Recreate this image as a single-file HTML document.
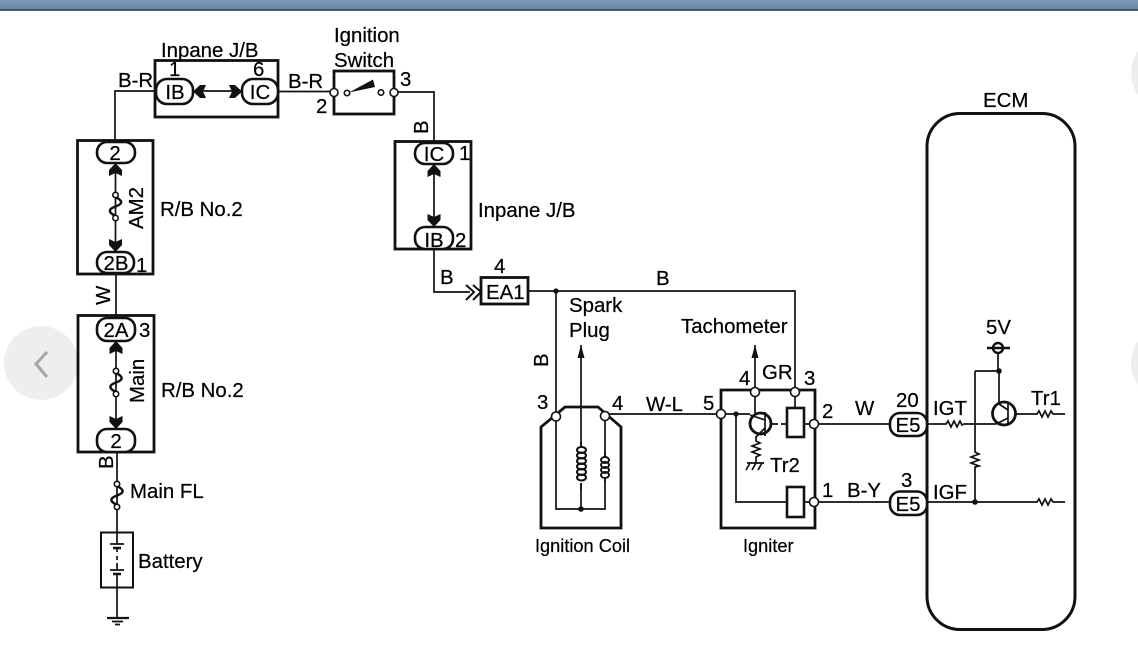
<!DOCTYPE html>
<html><head><meta charset="utf-8"><title>Ignition circuit</title>
<style>
html,body{margin:0;padding:0;background:#fff;width:1138px;height:660px;overflow:hidden}
svg{position:absolute;left:0;top:0;display:block}
#d{filter:blur(.35px)}
text{font-family:"Liberation Sans",sans-serif;font-size:20.4px;fill:#000;stroke:#000;stroke-width:.22px}
.s{font-size:18.2px}
.m{text-anchor:middle}
.w{fill:none;stroke:#111;stroke-width:1.7}
.b{fill:#fff;stroke:#111;stroke-width:2.8}
.n{fill:none;stroke:#111;stroke-width:2.8}
.p{fill:#fff;stroke:#111;stroke-width:2.6}
.t{fill:#fff;stroke:#111;stroke-width:1.6}
.d{fill:#111}
</style></head><body>
<svg width="1138" height="660" viewBox="0 0 1138 660">
<defs>
<linearGradient id="h" x1="0" y1="0" x2="0" y2="1"><stop offset="0" stop-color="#7f9ab6"/><stop offset="1" stop-color="#6887a6"/></linearGradient>
</defs>
<rect width="1138" height="660" fill="#fff"/>
<rect width="1138" height="9.5" fill="url(#h)"/>
<rect y="9.5" width="1138" height="1.2" fill="#17202c"/>
<circle cx="41" cy="363" r="37" fill="#eee"/>
<path d="M47,352 L36,364 L47,377" fill="none" stroke="#a6a6a6" stroke-width="3"/>
<circle cx="1168" cy="73" r="37" fill="#eee"/>
<circle cx="1168" cy="363" r="37" fill="#eee"/>
</svg>
<svg id="d" width="1138" height="660" viewBox="0 0 1138 660">
<defs>
<path id="a" d="M0,0 L6.500,7 L6.500,13 L0,10 L-6.500,13 L-6.500,7 Z" fill="#111"/>
<g id="f"><path d="M0,2 C8,6 7,9 0,11.500 C-7,14 -8,17 0,21" fill="none" stroke="#111" stroke-width="2.500"/><circle cx="0" cy="0" r="2.700" class="t"/><circle cx="0" cy="23" r="2.700" class="t"/></g>
</defs>

<!-- wires left -->
<path class="w" d="M156,91 H115 V141"/>
<path class="w" d="M116,274 V316"/>
<path class="w" d="M117,452 V532"/>
<path class="w" d="M117,587 V618"/>
<path class="w" d="M278,91.500 H331"/>
<path class="w" d="M397,92 H434 V141"/>
<path class="w" d="M434,249 V292 H470"/>
<path class="w" d="M528,291 H795 V389"/>
<path class="w" d="M556,291 V509 H605 V420"/>
<path class="w" d="M581,345 V509"/>
<path class="w" d="M608,414 H718"/>

<!-- Inpane J/B top -->
<rect class="b" x="155" y="60.500" width="123" height="56.500"/>
<rect class="p" x="156" y="79" width="37" height="25" rx="11"/>
<rect class="p" x="242" y="79" width="36" height="25" rx="11"/>
<path class="w" d="M200,91 H235"/>
<use href="#a" transform="translate(193,91.500) rotate(-90)"/>
<use href="#a" transform="translate(242,91.500) rotate(90)"/>

<!-- Ignition switch -->
<rect class="b" x="334" y="71" width="60" height="43"/>
<path d="M349,92.500 L373,79.500 L375,87 L356,91 Z" fill="#111"/>
<circle class="t" cx="347" cy="93" r="2.700"/>
<circle class="t" cx="381" cy="92.500" r="2.700"/>
<circle class="t" cx="334" cy="92.500" r="4"/>
<circle class="t" cx="394" cy="92.500" r="4"/>

<!-- R/B AM2 -->
<rect class="b" x="77.500" y="140.500" width="75.500" height="133.500"/>
<rect class="p" x="97" y="142" width="38" height="21" rx="10"/>
<rect class="p" x="97" y="252" width="37" height="21" rx="10"/>
<path class="w" d="M115.500,170 V245"/>
<use href="#a" transform="translate(115.500,163)"/>
<use href="#a" transform="translate(115.500,252) rotate(180)"/>
<use href="#f" transform="translate(115.500,195)"/>

<!-- R/B Main -->
<rect class="b" x="78" y="315.500" width="76" height="136.500"/>
<rect class="p" x="97" y="318" width="38" height="23" rx="10"/>
<rect class="p" x="97" y="429" width="38" height="23" rx="10"/>
<path class="w" d="M116,346 V424"/>
<use href="#a" transform="translate(116,341)"/>
<use href="#a" transform="translate(116,429) rotate(180)"/>
<use href="#f" transform="translate(116,371)"/>

<!-- Main FL + battery -->
<use href="#f" transform="translate(117,484)"/>
<rect x="101" y="532.500" width="32" height="55" fill="#fff" stroke="#111" stroke-width="2"/>
<path class="w" d="M117,532 V544 M117,548 V552 M117,556 V560 M117,563 V570 M117,574 V587"/>
<path class="w" d="M110,544 H124 M110,570 H124"/>
<path d="M113,548 H121 M113,574 H121" fill="none" stroke="#111" stroke-width="2.600"/>
<path class="w" d="M107,618 H129" style="stroke-width:2.200"/>
<path class="w" d="M112,621.500 H123 M115,624.500 H120"/>

<!-- Inpane J/B right -->
<rect class="b" x="395" y="141.500" width="76" height="107.500"/>
<rect class="p" x="415" y="143" width="38" height="21" rx="10"/>
<rect class="p" x="415" y="227" width="38" height="22" rx="10"/>
<path class="w" d="M434,170 V220"/>
<use href="#a" transform="translate(434,164)"/>
<use href="#a" transform="translate(434,227) rotate(180)"/>

<!-- EA1 -->
<path fill="none" stroke="#111" stroke-width="2" d="M466,285 L474,292 L466,300 M473,285 L481,292 L473,300"/>
<rect class="b" x="481" y="277.500" width="47" height="26.500"/>
<circle class="d" cx="556" cy="291" r="2.600"/>

<!-- Ignition coil -->
<path class="n" d="M565,407 H598 L621,427 V528 H541 V427 Z"/>
<path d="M581,345 L577.500,358 H584.500 Z" fill="#111"/>
<rect x="574" y="447" width="14" height="36" fill="#fff"/>
<rect x="598" y="457" width="14" height="20" fill="#fff"/>
<g fill="none" stroke="#111" stroke-width="2">
<ellipse cx="581.500" cy="450" rx="4.500" ry="3"/><ellipse cx="581.500" cy="455.500" rx="4.500" ry="3"/><ellipse cx="581.500" cy="461" rx="4.500" ry="3"/><ellipse cx="581.500" cy="466.500" rx="4.500" ry="3"/><ellipse cx="581.500" cy="472" rx="4.500" ry="3"/><ellipse cx="581.500" cy="477.500" rx="4.500" ry="3"/>
<ellipse cx="605" cy="460" rx="4" ry="3"/><ellipse cx="605" cy="465" rx="4" ry="3"/><ellipse cx="605" cy="470" rx="4" ry="3"/><ellipse cx="605" cy="475" rx="4" ry="3"/>
</g>
<path class="w" d="M581,447 V442 M581,483 V490 M605,457 V452 M605,477 V482"/>
<circle class="t" cx="556" cy="416.500" r="4.500"/>
<circle class="t" cx="605" cy="416" r="4.500"/>
<circle class="d" cx="581" cy="509" r="2.800"/>

<!-- Igniter -->
<path class="n" d="M721,390 H815 V528 H721 Z"/>
<rect x="787" y="408" width="17" height="29" fill="#fff" stroke="#111" stroke-width="2.600"/>
<rect x="787" y="487" width="17" height="30" fill="#fff" stroke="#111" stroke-width="2.600"/>
<path class="w" d="M795,396 V408 M804,424 H811 M804,502 H811"/>
<path class="w" d="M725,414 H750"/>
<path class="w" d="M736,414 V502 H787"/>
<circle class="d" cx="736" cy="414" r="2.600"/>
<path class="w" d="M755,345 V413"/>
<path d="M755,345 L751.500,358 H758.500 Z" fill="#111"/>
<circle cx="760.500" cy="423.500" r="10.500" fill="#fff" stroke="#111" stroke-width="2.800"/>
<path class="w" d="M765,412 V436 M772,424 H778 M781,424 H787"/>
<path class="w" d="M750,415 L765,420 M765,428 L756,437"/>
<path class="w" d="M756,436 V441 L760,443 L752,446 L760,449 L752,452 L760,455 L756,457 V463"/>
<path class="w" d="M747,463 H764 M746,470 L750,463 M752,470 L756,463 M758,470 L762,463"/>
<circle class="t" cx="721" cy="414" r="4.500"/>
<circle class="t" cx="755" cy="392" r="4.500"/>
<circle class="t" cx="795" cy="392" r="4.500"/>
<circle class="t" cx="814" cy="424" r="4.500"/>
<circle class="t" cx="814" cy="502" r="4.500"/>

<!-- W / B-Y wires -->
<path class="w" d="M818,424 H890 M818,502 H890"/>

<!-- ECM -->
<rect x="927" y="113.500" width="148" height="516" rx="33" fill="#fff" stroke="#111" stroke-width="3"/>
<rect class="p" x="890" y="413" width="37" height="23" rx="10"/>
<rect class="p" x="890" y="491.500" width="37" height="23.500" rx="10"/>
<path class="w" d="M928,424 H946 L948,421 L951,427 L954,421 L957,427 L960,421 L962,425 L964,424 H996"/>
<path class="w" d="M975,371 V452 L979,454 L971,457 L979,460 L971,463 L979,466 L975,467 V502"/>
<path class="w" d="M975,371 H999"/>
<path class="w" d="M928,502 H1037 L1039,499 L1042,505 L1045,499 L1048,505 L1051,499 L1053,502 H1065"/>
<circle class="d" cx="975" cy="502" r="2.800"/>
<circle class="d" cx="999" cy="371" r="2.800"/>
<path class="w" d="M998,353 V371"/>
<circle cx="998" cy="348" r="5" fill="none" stroke="#111" stroke-width="2.400"/>
<path d="M987,348 H1010" fill="none" stroke="#111" stroke-width="2.400"/>
<circle cx="1004" cy="413.500" r="11.500" fill="#fff" stroke="#111" stroke-width="2.800"/>
<path class="w" d="M999,371 V404"/>
<path class="w" d="M1008,402 V425 M1016,414 H1037 L1039,411 L1042,417 L1045,411 L1048,417 L1051,411 L1053,414 H1065"/>
<path class="w" d="M999,404 L1008,410 M996,424 L1008,418"/>

<!-- labels -->
<text x="161" y="57">Inpane J/B</text>
<text x="334" y="42">Ignition</text>
<text x="334" y="67">Switch</text>
<text x="118" y="87">B-R</text>
<text x="169" y="76">1</text>
<text x="253" y="76">6</text>
<text class="m" x="175" y="99">IB</text>
<text class="m" x="260" y="99">IC</text>
<text x="288" y="88">B-R</text>
<text x="316" y="113">2</text>
<text x="400" y="86">3</text>
<text transform="translate(428,134) rotate(-90)">B</text>
<text class="m" x="115" y="160">2</text>
<text transform="translate(143,229) rotate(-90)">AM2</text>
<text x="160" y="216">R/B No.2</text>
<text class="m" x="116" y="270">2B</text>
<text x="136" y="272">1</text>
<text transform="translate(110,305) rotate(-90)">W</text>
<text class="m" x="116" y="337">2A</text>
<text x="139" y="337">3</text>
<text transform="translate(144,403) rotate(-90)">Main</text>
<text x="161" y="397">R/B No.2</text>
<text class="m" x="116" y="448">2</text>
<text transform="translate(113,469) rotate(-90)">B</text>
<text x="130" y="498">Main FL</text>
<text x="138" y="568">Battery</text>
<text class="m" x="434" y="161">IC</text>
<text x="459" y="160">1</text>
<text x="478" y="217">Inpane J/B</text>
<text class="m" x="434" y="247">IB</text>
<text x="455" y="247">2</text>
<text x="440" y="284">B</text>
<text x="494" y="273">4</text>
<text x="486" y="299">EA1</text>
<text x="656" y="285">B</text>
<text x="569" y="312">Spark</text>
<text x="569" y="337">Plug</text>
<text x="681" y="333">Tachometer</text>
<text transform="translate(548,367) rotate(-90)">B</text>
<text x="537" y="409">3</text>
<text x="612" y="410">4</text>
<text x="646" y="411">W-L</text>
<text x="703" y="410">5</text>
<text x="739" y="385">4</text>
<text x="762" y="379">GR</text>
<text x="804" y="385">3</text>
<text x="822" y="418">2</text>
<text x="855" y="415">W</text>
<text x="822" y="497">1</text>
<text x="847" y="497">B-Y</text>
<text x="770" y="472">Tr2</text>
<text class="s" x="535" y="552">Ignition Coil</text>
<text class="s" x="743" y="552">Igniter</text>
<text x="896" y="407">20</text>
<text class="m" x="908" y="432">E5</text>
<text x="901" y="487">3</text>
<text class="m" x="908" y="511">E5</text>
<text x="933" y="415">IGT</text>
<text x="933" y="499">IGF</text>
<text x="986" y="334">5V</text>
<text x="1031" y="405">Tr1</text>
<text x="983" y="107">ECM</text>
</svg>
</body></html>
